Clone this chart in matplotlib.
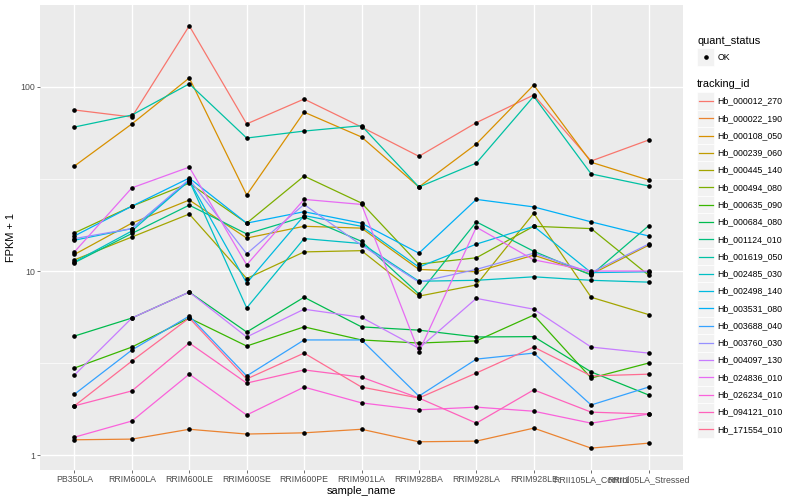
import matplotlib
matplotlib.use("Agg")
import matplotlib.pyplot as plt
from matplotlib.patches import Rectangle
from matplotlib.lines import Line2D

plt.rcParams['font.family'] = ['Liberation Sans', 'DejaVu Sans']

samples = ["PB350LA", "RRIM600LA", "RRIM600LE", "RRIM600SE", "RRIM600PE",
           "RRIM901LA", "RRIM928BA", "RRIM928LA", "RRIM928LE",
           "RRII105LA_Control", "RRII105LA_Stressed"]

# FPKM + 1
hb_000012_270 = [75, 68.7, 215, 63, 86, 60.6, 42, 64, 90.5, 39.6, 51.5]
hb_000022_190 = [1.21, 1.22, 1.38, 1.30, 1.32, 1.38, 1.18, 1.19, 1.40, 1.09, 1.16]
hb_000108_050 = [37.2, 63, 112, 25.9, 73, 53.5, 28.6, 49, 102.5, 39, 31.2]
hb_000239_060 = [12.3, 18.2, 24.3, 15.1, 17.5, 17.1, 10.2, 9.9, 12.2, 9.6, 13.8]
hb_000445_140 = [11.5, 15.3, 20.4, 9.1, 12.7, 12.9, 7.3, 8.4, 20.6, 7.2, 5.8]
hb_000494_080 = [16.1, 22.5, 30, 18.2, 32.8, 23.4, 10.9, 11.8, 17.5, 17, 9.5]
hb_000635_090 = [2.97, 3.86, 5.55, 3.91, 4.97, 4.22, 4.06, 4.17, 5.76, 2.62, 3.16]
hb_000684_080 = [4.43, 5.55, 7.68, 4.66, 7.2, 4.97, 4.77, 4.38, 4.4, 2.83, 2.12]
hb_001124_010 = [11.1, 16, 22.8, 15.9, 19.7, 14.5, 7.5, 18.5, 12.8, 9.5, 17.6]
hb_001619_050 = [60.6, 70.4, 104, 52.8, 57.6, 61.6, 28.6, 38.6, 89, 33.7, 29]
hb_002485_030 = [11.2, 16.5, 31, 6.3, 15, 14.1, 8.8, 8.9, 9.3, 8.9, 8.7]
hb_002498_140 = [14.7, 17, 31, 8.6, 20, 17.5, 10.5, 14, 17.5, 9.8, 9.9]
hb_003531_080 = [15.5, 22.5, 32, 18.2, 21, 18.2, 12.5, 24.5, 22.3, 18.5, 15.5]
hb_003688_040 = [2.14, 3.72, 5.69, 2.69, 4.22, 4.22, 2.09, 3.32, 3.58, 1.87, 2.34]
hb_003760_030 = [15, 17, 31.5, 12.4, 23, 13.8, 8.7, 10.2, 12.5, 9.8, 14]
hb_004097_130 = [2.72, 5.55, 7.68, 4.38, 6.2, 5.6, 3.8, 7.1, 6.2, 3.86, 3.58]
hb_024836_010 = [12.7, 28.3, 36.7, 10.8, 24.5, 23, 3.63, 17.3, 11.5, 10, 10]
hb_026234_010 = [1.25, 1.53, 2.75, 1.65, 2.34, 1.92, 1.76, 1.82, 1.73, 1.49, 1.67]
hb_094121_010 = [1.85, 2.23, 4.06, 2.46, 2.9, 2.65, 2.04, 1.49, 2.26, 1.71, 1.67]
hb_171554_010 = [1.85, 3.24, 5.55, 2.59, 3.58, 2.34, 2.04, 2.79, 3.86, 2.69, 2.75]

tracking_ids = ["Hb_000012_270", "Hb_000022_190", "Hb_000108_050", "Hb_000239_060",
                "Hb_000445_140", "Hb_000494_080", "Hb_000635_090", "Hb_000684_080",
                "Hb_001124_010", "Hb_001619_050", "Hb_002485_030", "Hb_002498_140",
                "Hb_003531_080", "Hb_003688_040", "Hb_003760_030", "Hb_004097_130",
                "Hb_024836_010", "Hb_026234_010", "Hb_094121_010", "Hb_171554_010"]
fpkm = [hb_000012_270, hb_000022_190, hb_000108_050, hb_000239_060,
        hb_000445_140, hb_000494_080, hb_000635_090, hb_000684_080,
        hb_001124_010, hb_001619_050, hb_002485_030, hb_002498_140,
        hb_003531_080, hb_003688_040, hb_003760_030, hb_004097_130,
        hb_024836_010, hb_026234_010, hb_094121_010, hb_171554_010]

# ggplot hue palette, 20 levels
colors = ["#F8766D", "#EA8331", "#D89000", "#C09B00", "#A3A500", "#7CAE00",
          "#39B600", "#00BB4E", "#00BF7D", "#00C1A3", "#00BFC4", "#00BAE0",
          "#00B0F6", "#35A2FF", "#9590FF", "#C77CFF", "#E76BF3", "#FA62DB",
          "#FF62BC", "#FF6C91"]

W, H = 800, 500
fig = plt.figure(figsize=(8, 5), dpi=100)
ax = fig.add_axes([40 / W, 30 / H, 643 / W, 465 / H])
ax.set_facecolor("#EBEBEB")

x = list(range(len(samples)))
for vals, c in zip(fpkm, colors):
    ax.plot(x, vals, color=c, lw=0.9, zorder=3)
for vals in fpkm:
    ax.plot(x, vals, ls="none", marker="o", ms=2.3, color="black", zorder=4)

ax.set_yscale("log")
ax.set_yticks([1, 10, 100])
ax.set_yticklabels(["1", "10", "100"])
ax.set_yticks([10 ** 0.5, 10 ** 1.5], minor=True)
ax.yaxis.set_minor_formatter(plt.NullFormatter())
ax.set_xticks(x)
ax.set_xticklabels(samples)
ax.set_ylim(0.829, 279)
ax.set_xlim(-0.6, len(samples) - 0.4)

ax.grid(True, which="major", color="white", lw=1.0, zorder=1)
ax.grid(True, which="minor", axis="y", color="white", lw=0.5, zorder=1)
ax.set_axisbelow(True)
for s in ax.spines.values():
    s.set_visible(False)
ax.tick_params(which="major", length=2.0, width=0.5, color="#333333",
               labelsize=6.3, labelcolor="#4D4D4D", pad=1.6)
ax.tick_params(which="minor", length=0)

ax.set_xlabel("sample_name", fontsize=7.9, labelpad=1.5)
ax.set_ylabel("FPKM + 1", fontsize=7.9, labelpad=3)


def fx(px):
    return px / W


def fy(py):
    return 1 - py / H


key = 17.28
kx = 697
# quant_status legend
fig.text(fx(kx), fy(41), "quant_status", fontsize=7.9, va="center", ha="left")
fig.patches.append(Rectangle((fx(kx), fy(57 + key / 2)), key / W, key / H,
                             transform=fig.transFigure, facecolor="#F2F2F2",
                             edgecolor="white", lw=0.5))
fig.lines.append(Line2D([fx(kx + key / 2)], [fy(57)], transform=fig.transFigure,
                        marker="o", ms=2.3, color="black", ls="none"))
fig.text(fx(kx + key + 3), fy(57), "OK", fontsize=6.3, va="center", ha="left")

# tracking_id legend
fig.text(fx(kx), fy(84), "tracking_id", fontsize=7.9, va="center", ha="left")
for i, (name, c) in enumerate(zip(tracking_ids, colors)):
    cy = 101 + i * key
    fig.patches.append(Rectangle((fx(kx), fy(cy + key / 2)), key / W, key / H,
                                 transform=fig.transFigure, facecolor="#F2F2F2",
                                 edgecolor="white", lw=0.5))
    fig.lines.append(Line2D([fx(kx + 1.7), fx(kx + key - 1.7)], [fy(cy), fy(cy)],
                            transform=fig.transFigure, color=c, lw=0.9))
    fig.text(fx(kx + key + 3), fy(cy), name, fontsize=6.3, va="center", ha="left")

fig.savefig("out.png", dpi=100)
